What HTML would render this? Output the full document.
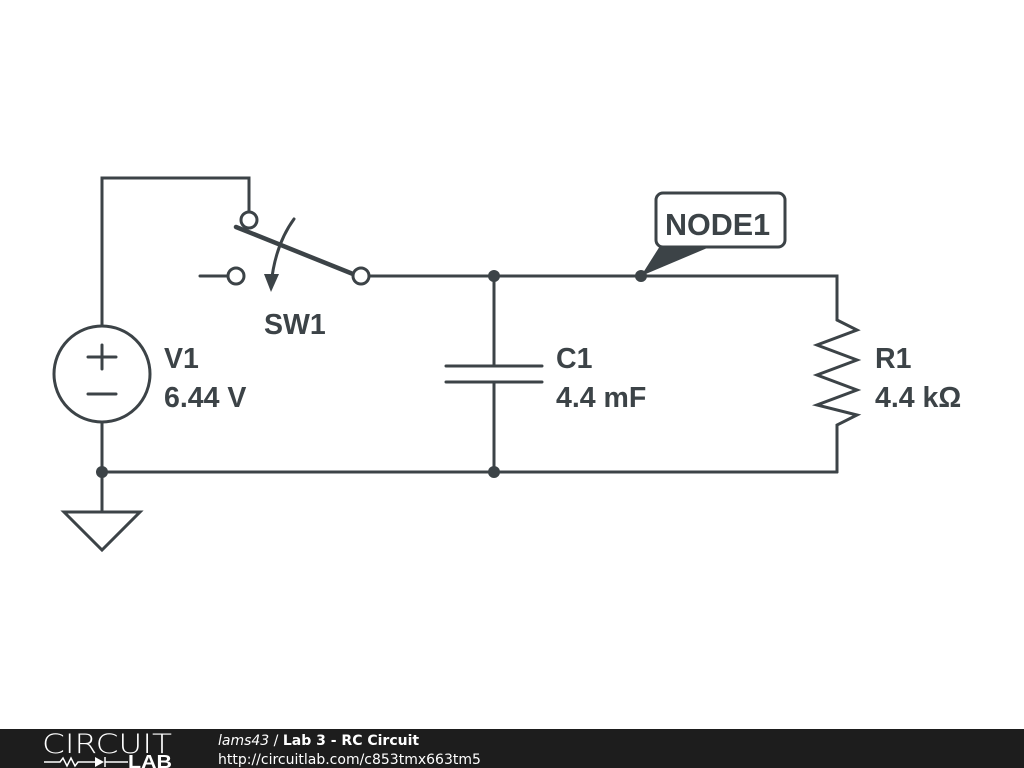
<!DOCTYPE html>
<html><head><style>
html,body{margin:0;padding:0;background:#fff;width:1024px;height:768px;overflow:hidden}
</style></head><body>
<svg width="1024" height="768" viewBox="0 0 1024 768" xmlns="http://www.w3.org/2000/svg">
<g stroke="#3c4347" stroke-width="3" fill="none" stroke-linecap="round">
<polyline points="102,327 102,178 249,178 249,212"/>
<circle cx="249" cy="220" r="8" fill="#fff"/>
<line x1="236" y1="227" x2="353" y2="274" stroke-width="4.5"/>
<circle cx="236" cy="276" r="8" fill="#fff"/>
<line x1="200" y1="276" x2="228" y2="276"/>
<circle cx="361" cy="276" r="8" fill="#fff"/>
<path d="M294,219 Q275,245 271,285"/>
<polyline points="369,276 837,276 837,320"/>
<polyline points="837,320 857,330 817,345 857,360 817,375 857,390 817,405 857,415 837,425 837,472"/>
<polyline points="102,422 102,510"/>
<line x1="102" y1="472" x2="837" y2="472"/>
<line x1="494" y1="276" x2="494" y2="366"/>
<line x1="494" y1="382" x2="494" y2="472"/>
<line x1="446" y1="366" x2="542" y2="366"/>
<line x1="446" y1="382" x2="542" y2="382"/>
<circle cx="102" cy="374" r="48" fill="#fff"/>
<line x1="88" y1="357" x2="116" y2="357"/>
<line x1="102" y1="345" x2="102" y2="369"/>
<line x1="88" y1="394" x2="116" y2="394"/>
<polygon points="64,512 140,512 102,550" stroke-linejoin="miter"/>
</g>
<polygon points="271,292 264,274 279,274" fill="#3c4347"/>
<g fill="#3c4347">
<circle cx="494" cy="276" r="6"/><circle cx="641" cy="276" r="6"/>
<circle cx="102" cy="472" r="6"/><circle cx="494" cy="472" r="6"/>
<polygon points="641,276 660,246 712,246"/>
</g>
<rect x="656" y="193" width="129" height="54" rx="7" fill="#fff" stroke="#3c4347" stroke-width="3"/>
<g font-family="Liberation Sans, sans-serif" font-weight="bold" font-size="28.5" fill="#3c4347">
<text x="665" y="235" font-size="30.5">NODE1</text>
<text x="264" y="334">SW1</text>
<text x="164" y="368">V1</text>
<text x="164" y="407">6.44 V</text>
<text x="556" y="368">C1</text>
<text x="556" y="407">4.4 mF</text>
<text x="875" y="368">R1</text>
<text x="875" y="407">4.4 kΩ</text>
</g>
<rect x="0" y="729" width="1024" height="39" fill="#1d1d1d"/>
<text x="42" y="753" font-family="DejaVu Sans, sans-serif" font-size="27" fill="#fff" font-weight="200" textLength="130" lengthAdjust="spacingAndGlyphs">CIRCUIT</text>
<g stroke="#fff" stroke-width="1.5" fill="none">
<polyline points="44,762 60,762 63,758 67,766 71,758 75,766 78,762 95,762"/>
<line x1="105" y1="757" x2="105" y2="767"/>
<line x1="105" y1="762" x2="128" y2="762"/>
</g>
<polygon points="95,757 95,767 104,762" fill="#fff"/>
<text x="128" y="768" font-family="Liberation Sans, sans-serif" font-weight="bold" font-size="18" fill="#fff" textLength="44" lengthAdjust="spacingAndGlyphs">LAB</text>
<text x="218" y="745" font-family="DejaVu Sans, sans-serif" font-size="14" fill="#fff"><tspan font-style="italic">lams43</tspan> / <tspan font-weight="bold">Lab 3 - RC Circuit</tspan></text>
<text x="218" y="764" font-family="DejaVu Sans, sans-serif" font-size="14" fill="#fff">http://circuitlab.com/c853tmx663tm5</text>
</svg>
</body></html>
